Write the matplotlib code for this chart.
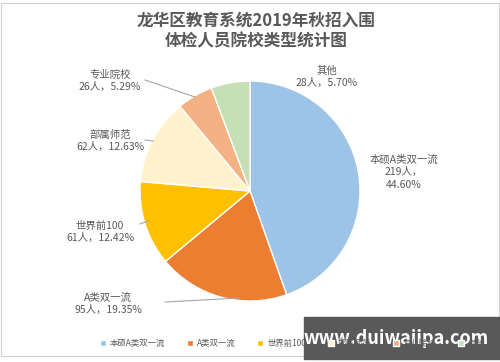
import matplotlib.pyplot as plt
from matplotlib.patches import Rectangle

plt.rcParams['font.family'] = ['Noto Sans CJK SC', 'DejaVu Sans']

# data
categories = ['本硕A类双一流', 'A类双一流', '世界前100', '部属师范', '专业院校', '其他']
counts = [219, 95, 61, 62, 26, 28]
percents = ['44.60%', '19.35%', '12.42%', '12.63%', '5.29%', '5.70%']
colors = ['#9DC3E6', '#ED7D31', '#FFC000', '#FFF2CC', '#F4B183', '#C5E0B4']

title = '龙华区教育系统2019年秋招入围\n体检人员院校类型统计图'
grey = '#595959'

fig = plt.figure(figsize=(5, 3.62), dpi=100)
ax = fig.add_axes([0, 0, 1, 1])

wedges, _ = ax.pie(counts, colors=colors, startangle=90, counterclock=False,
                   center=(250, 171), radius=110,
                   wedgeprops=dict(edgecolor='white', linewidth=1))
ax.set_xlim(0, 500)
ax.set_ylim(0, 362)
ax.set_aspect('auto')
ax.axis('off')

# frame around the picture
ax.add_patch(Rectangle((1, 6), 498, 353, fill=False, edgecolor='#D0D0D0', linewidth=0.8))

ax.text(256, 331, title, ha='center', va='center', fontsize=12, fontweight='semibold',
        color=grey, linespacing=1.25)

# label text positions and leader line ends (figure pixels, y up)
label_pos = {
    '本硕A类双一流': (404, 190),
    'A类双一流': (108, 58),
    '世界前100': (100, 130),
    '部属师范': (110, 221),
    '专业院校': (110, 281),
    '其他': (327, 285),
}
lines = {
    'A类双一流': [(165, 60), (240, 64)],
    '世界前100': [(140, 138), (148, 141)],
    '部属师范': [(145, 222), (153, 221)],
    '专业院校': [(145, 282), (195, 265)],
}
for cat, n, p in zip(categories, counts, percents):
    x, y = label_pos[cat]
    if cat == '本硕A类双一流':
        s = f'{cat}\n{n}人，\n{p}'
    else:
        s = f'{cat}\n{n}人，{p}'
    ax.text(x, y, s, ha='center', va='center', fontsize=7.5, color=grey, linespacing=1.3)
    if cat in lines:
        (x0, y0), (x1, y1) = lines[cat]
        ax.plot([x0, x1], [y0, y1], color='#A6A6A6', linewidth=0.8)

fig.legend(wedges, categories, loc='center', bbox_to_anchor=(0.585, 0.052), ncol=6,
           frameon=False, fontsize=6, handlelength=0.7, handleheight=0.7,
           handletextpad=0.5, columnspacing=2.6, labelcolor=grey)

# watermark
ax.add_patch(Rectangle((304, 3), 196, 42, color='#595959', zorder=5))
ax.text(396, 24, 'www.duiwaiipa.com', ha='center', va='center', fontsize=13,
        fontweight='bold', color='white', zorder=6)

fig.savefig('out.png', dpi=100)
